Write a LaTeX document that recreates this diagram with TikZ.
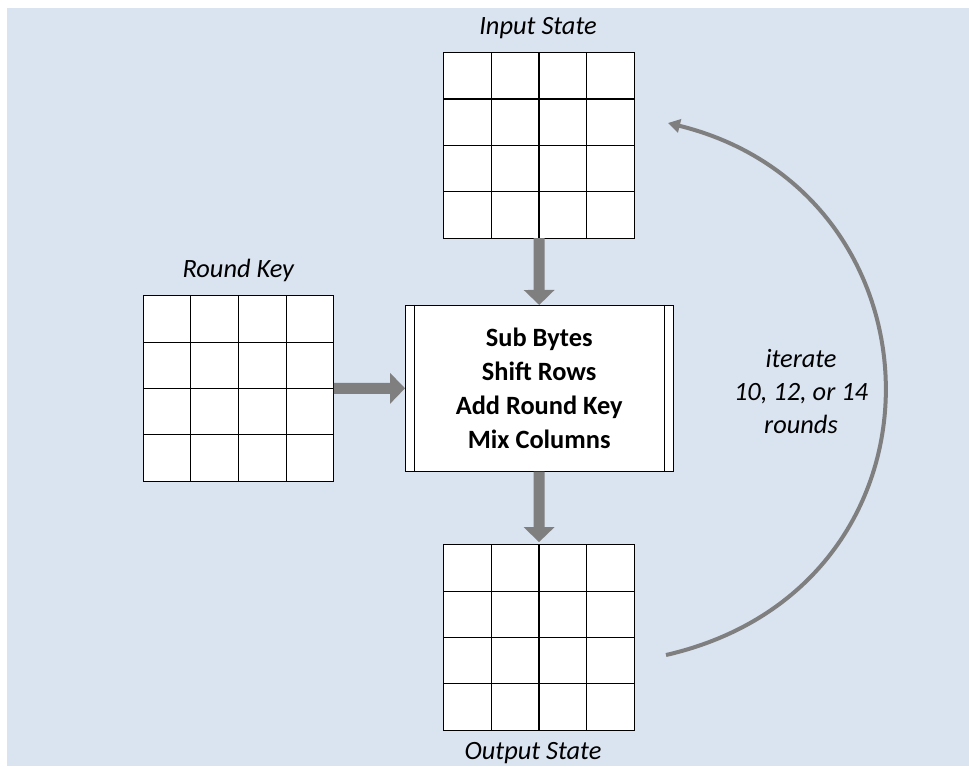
\documentclass[tikz,border=0pt]{standalone}
\usepackage{fontspec}
\setmainfont{Carlito}
\usetikzlibrary{arrows.meta,calc}
\definecolor{bgblue}{HTML}{DAE3F0}
\definecolor{arrowgray}{HTML}{7F7F7F}
% inner lines of a 4x4 state grid node
\newcommand\drawstategrid[1]{%
  \foreach \k in {1,2,3}{%
    \draw[cellline] ($(#1.north west)!\k/4!(#1.north east)$) -- ($(#1.south west)!\k/4!(#1.south east)$);
    \draw[cellline] ($(#1.north west)!\k/4!(#1.south west)$) -- ($(#1.north east)!\k/4!(#1.south east)$);
  }%
}
\begin{document}
\begin{tikzpicture}[x=0.75pt,y=-0.75pt,
  stategrid/.style={draw=black, line width=0.8pt, fill=white, inner sep=0pt, outer sep=0pt,
    minimum width=142.9pt, minimum height=139.1pt},
  cellline/.style={draw=black, line width=0.8pt},
  procbox/.style={draw=black, line width=0.6pt, fill=white, inner sep=0pt, outer sep=0pt,
    minimum width=201.2pt, minimum height=125pt, align=center,
    font=\fontsize{19.8}{25.4}\selectfont\bfseries},
  lbl/.style={font=\fontsize{19.8}{24.8}\selectfont\itshape, inner sep=0pt},
  blockarrow/.style={draw=arrowgray, line width=8.25pt,
    -{Triangle[length=11.25pt,width=22.5pt]}},
  looparrow/.style={draw=arrowgray, line width=3pt,
    -{Triangle[length=9pt,width=10pt]}}]

  % page and background
  \useasboundingbox (0,0) rectangle (969,766);
  \fill[bgblue] (7,8) rectangle (969,766);

  % state grids
  \node[stategrid] (instate) at (539,145.4) {};
  \node[stategrid] (roundkey) at (238.5,388.4) {};
  \node[stategrid] (outstate) at (539,637.5) {};
  \drawstategrid{instate}
  \drawstategrid{roundkey}
  \drawstategrid{outstate}

  % round function box
  \node[procbox] (proc) at (539.2,388.3) {Sub Bytes\\Shift Rows\\Add Round Key\\Mix Columns};
  \draw[line width=0.6pt] ([xshift=6.75pt]proc.north west) -- ([xshift=6.75pt]proc.south west);
  \draw[line width=0.6pt] ([xshift=-6.75pt]proc.north east) -- ([xshift=-6.75pt]proc.south east);

  % labels
  \node[lbl, anchor=base] (inlbl) at (538,35) {Input State};
  \node[lbl, anchor=base] (rklbl) at (238.3,277) {Round Key};
  \node[lbl, anchor=base] (outlbl) at (533,759) {Output State};
  \node[lbl, align=center] (iterlbl) at (801,391.5) {iterate\\10, 12, or 14\\rounds};

  % data flow
  \draw[blockarrow] (instate.south) -- (proc.north);
  \draw[blockarrow] (roundkey.east) -- (proc.west);
  \draw[blockarrow, shorten >=2pt] (proc.south) -- (outstate.north);

  % iteration loop
  \coordinate (loopstart) at (666,655);
  \coordinate (looptip) at (668,123);
  \draw[looparrow] (loopstart) .. controls (962,587) and (952,193) .. (looptip);
\end{tikzpicture}
\end{document}
